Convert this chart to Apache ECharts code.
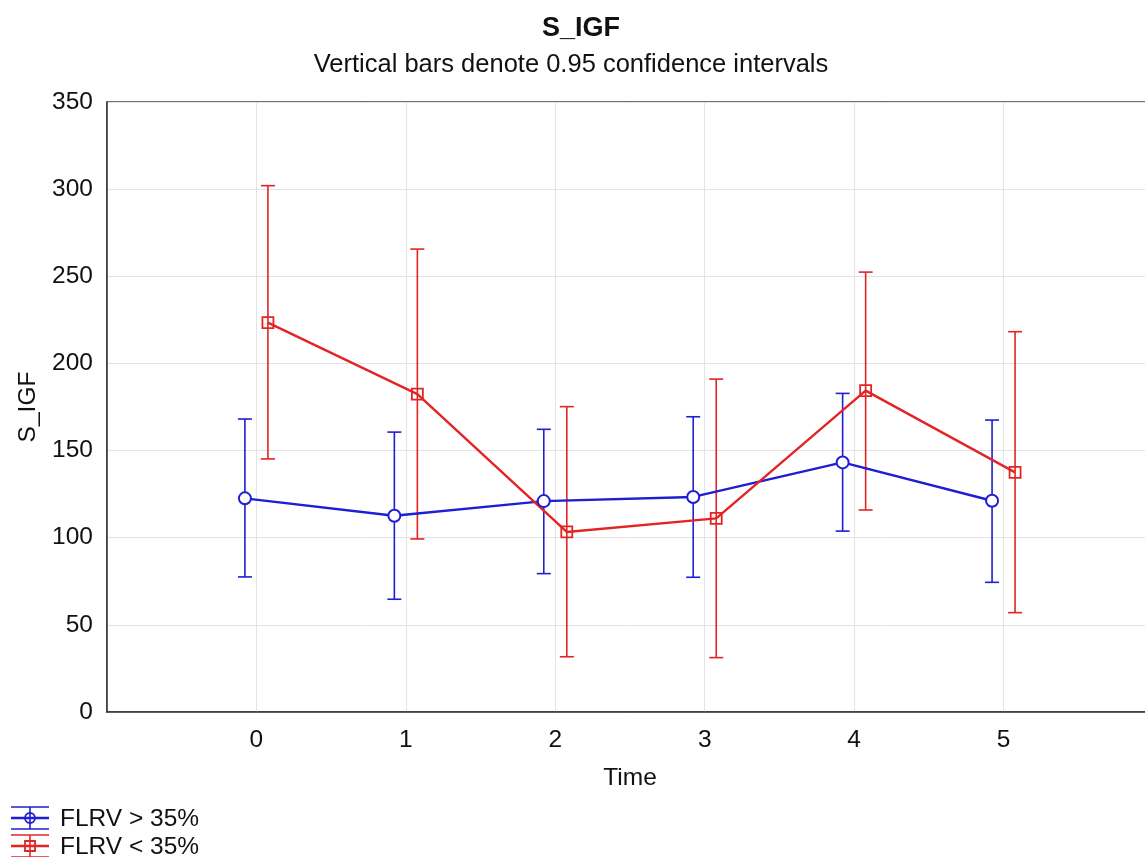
<!DOCTYPE html>
<html>
<head>
<meta charset="utf-8">
<script src="https://cdn.jsdelivr.net/npm/echarts@6/dist/echarts.min.js"></script>
<style>html,body{margin:0;padding:0;background:#fff;}#c{width:1145px;height:857px;}</style>
</head>
<body>
<div id="c"></div>
<script>
const times = [0, 1, 2, 3, 4, 5];
const xTickLabels = ['0', '1', '2', '3', '4', '5'];
const blueName = 'FLRV > 35%';
const redName = 'FLRV < 35%';
const blueMean = [122.6, 112.6, 121.0, 123.4, 143.2, 121.2];
const blueLow  = [77.5, 64.7, 79.4, 77.3, 103.8, 74.4];
const blueHigh = [168.1, 160.6, 162.2, 169.4, 182.8, 167.5];
const redMean  = [223.4, 182.4, 103.3, 111.1, 184.4, 137.5];
const redLow   = [145.2, 99.3, 31.7, 31.2, 115.9, 57.0];
const redHigh  = [302.0, 265.6, 175.2, 191.0, 252.4, 218.2];

const BLUE = '#1e1ed2';
const RED = '#e32424';
const FONT = '"Liberation Sans", Arial, sans-serif';
const OFF = 0.077;

function pts(mean, dx) { return times.map((t, i) => [t + dx, mean[i]]); }
function bars(low, high, dx) { return times.map((t, i) => [t + dx, low[i], high[i]]); }

function errRender(color) {
  return function (params, api) {
    const x = api.value(0);
    const lo = api.coord([x, api.value(1)]);
    const hi = api.coord([x, api.value(2)]);
    const hw = 7;
    const st = { stroke: color, lineWidth: 1.6 };
    return {
      type: 'group',
      children: [
        { type: 'line', shape: { x1: lo[0], y1: lo[1], x2: hi[0], y2: hi[1] }, style: st },
        { type: 'line', shape: { x1: lo[0] - hw, y1: lo[1], x2: lo[0] + hw, y2: lo[1] }, style: st },
        { type: 'line', shape: { x1: hi[0] - hw, y1: hi[1], x2: hi[0] + hw, y2: hi[1] }, style: st }
      ]
    };
  };
}

function legendIcon(y, color, isCircle) {
  const st = { stroke: color, lineWidth: 1.6 };
  const ch = [
    { type: 'line', shape: { x1: 11, y1: y - 11, x2: 49, y2: y - 11 }, style: st },
    { type: 'line', shape: { x1: 11, y1: y, x2: 49, y2: y }, style: { stroke: color, lineWidth: 2.4 } },
    { type: 'line', shape: { x1: 11, y1: y + 11, x2: 49, y2: y + 11 }, style: st },
    { type: 'line', shape: { x1: 30, y1: y - 11, x2: 30, y2: y + 11 }, style: st }
  ];
  if (isCircle) ch.push({ type: 'circle', shape: { cx: 30, cy: y, r: 5 }, style: { stroke: color, fill: 'none', lineWidth: 1.8 } });
  else ch.push({ type: 'rect', shape: { x: 25, y: y - 5, width: 10, height: 10 }, style: { stroke: color, fill: 'none', lineWidth: 1.8 } });
  return { type: 'group', children: ch };
}

const chart = echarts.init(document.getElementById('c'));
chart.setOption({
  backgroundColor: '#fff',
  animation: false,
  title: [
    { text: 'S_IGF', left: 581, top: 15, textAlign: 'center', padding: 0,
      textStyle: { fontFamily: FONT, fontSize: 27, fontWeight: 'bold', color: '#111' } },
    { text: 'Vertical bars denote 0.95 confidence intervals', left: 571, top: 52, textAlign: 'center', padding: 0,
      textStyle: { fontFamily: FONT, fontSize: 25.5, fontWeight: 'normal', color: '#111' } }
  ],
  grid: { left: 107, width: 1046, top: 102, height: 610, show: true, borderColor: '#444', borderWidth: 1.5,
          containLabel: false, outerBoundsMode: 'none' },
  xAxis: {
    type: 'value', min: -1, max: 6, interval: 1,
    name: 'Time', nameLocation: 'middle', nameGap: 54,
    nameTextStyle: { fontFamily: FONT, fontSize: 24.5, color: '#111' },
    axisLine: { show: true, onZero: false, lineStyle: { color: '#333', width: 1.5 } },
    axisTick: { show: false },
    axisLabel: {
      fontFamily: FONT, fontSize: 24.5, color: '#111', margin: 16,
      formatter: function (v) { const i = times.indexOf(v); return i >= 0 ? xTickLabels[i] : ''; }
    },
    splitLine: { show: true, lineStyle: { color: '#e4e4e4', width: 1 } }
  },
  yAxis: {
    type: 'value', min: 0, max: 350, interval: 50,
    name: 'S_IGF', nameLocation: 'middle', nameGap: 64,
    nameTextStyle: { fontFamily: FONT, fontSize: 24.5, color: '#111' },
    axisLine: { show: true, onZero: false, lineStyle: { color: '#333', width: 1.5 } },
    axisTick: { show: false },
    axisLabel: { fontFamily: FONT, fontSize: 24.5, color: '#111', margin: 14 },
    splitLine: { show: true, lineStyle: { color: '#e4e4e4', width: 1 } }
  },
  series: [
    { type: 'custom', name: blueName + ' CI', renderItem: errRender(BLUE), data: bars(blueLow, blueHigh, -OFF), z: 1, silent: true },
    { type: 'custom', name: redName + ' CI', renderItem: errRender(RED), data: bars(redLow, redHigh, OFF), z: 1, silent: true },
    { type: 'line', name: blueName, data: pts(blueMean, -OFF), symbol: 'emptyCircle', symbolSize: 12,
      lineStyle: { color: BLUE, width: 2.4 }, itemStyle: { color: BLUE, borderColor: BLUE, borderWidth: 1.8 }, z: 3 },
    { type: 'line', name: redName, data: pts(redMean, OFF), symbol: 'rect', symbolSize: 11,
      lineStyle: { color: RED, width: 2.4 }, itemStyle: { color: 'rgba(0,0,0,0)', borderColor: RED, borderWidth: 1.8 }, z: 3 }
  ],
  graphic: [
    legendIcon(818, BLUE, true),
    legendIcon(846, RED, false),
    { type: 'text', left: 60, top: 807, style: { text: blueName, font: '24.5px ' + FONT, fill: '#111' } },
    { type: 'text', left: 60, top: 835, style: { text: redName, font: '24.5px ' + FONT, fill: '#111' } }
  ]
});
</script>
</body>
</html>
